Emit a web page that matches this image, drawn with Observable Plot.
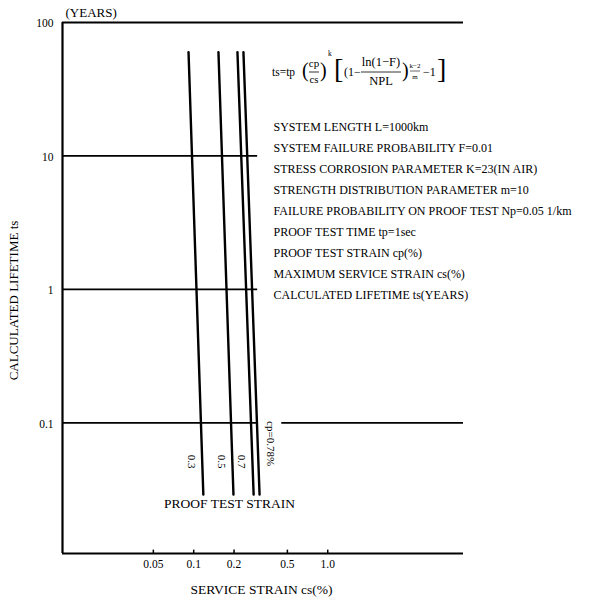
<!DOCTYPE html>
<html><head><meta charset="utf-8">
<script src="https://cdn.jsdelivr.net/npm/d3@7"></script>
<script src="https://cdn.jsdelivr.net/npm/@observablehq/plot@0.6"></script>
<style>body{margin:0;background:#fff}</style>
</head><body><div id="chart"></div>
<script>
// Proof test strain curves (cp, %), each a straight line on log-log axes
const proofStrain = [0.3, 0.5, 0.7, 0.78];
const proofStrainLabels = ["0.3", "0.5", "0.7", "cp=0.78%"];
const serviceStrainTop = [0.0915, 0.153, 0.212, 0.235];   // cs (%) at top end
const serviceStrainBottom = [0.118, 0.198, 0.280, 0.310]; // cs (%) at bottom end
const lifetimeTop = [60, 60, 60, 60];                     // ts (years)
const lifetimeBottom = [0.029, 0.029, 0.029, 0.029];

const xTicks = [0.05, 0.1, 0.2, 0.5, 1.0];
const xTickLabels = ["0.05", "0.1", "0.2", "0.5", "1.0"];
const yTicks = [100, 10, 1, 0.1];
const yTickLabels = ["100", "10", "1", "0.1"];
const gridYears = [10, 1, 0.1];

const xDomain = [0.0105, 10.3];
const yDomain = [0.0105, 100];
const gridEnd = 0.30;
const gapStart = 0.454;

const legendLines = [
  "SYSTEM LENGTH L=1000km",
  "SYSTEM FAILURE PROBABILITY F=0.01",
  "STRESS CORROSION PARAMETER K=23(IN AIR)",
  "STRENGTH DISTRIBUTION PARAMETER m=10",
  "FAILURE PROBABILITY ON PROOF TEST Np=0.05 1/km",
  "PROOF TEST TIME tp=1sec",
  "PROOF TEST STRAIN cp(%)",
  "MAXIMUM SERVICE STRAIN cs(%)",
  "CALCULATED LIFETIME ts(YEARS)"
];

const lines = proofStrain.flatMap((cp, i) => [
  {cp, cs: serviceStrainTop[i], ts: lifetimeTop[i]},
  {cp, cs: serviceStrainBottom[i], ts: lifetimeBottom[i]}
]);
const labelData = proofStrain.map((cp, i) => ({cp, label: proofStrainLabels[i], cs: serviceStrainBottom[i], ts: lifetimeBottom[i]}));

const font = "Liberation Serif";
const chart = Plot.plot({
  width: 613, height: 600,
  marginLeft: 62, marginRight: 150, marginTop: 22, marginBottom: 47,
  x: {type: "log", domain: xDomain, axis: null},
  y: {type: "log", domain: yDomain, axis: null},
  style: {fontFamily: font, fontSize: "11px", background: "#fff", color: "#000"},
  marks: [
    // frame (left, top, bottom)
    Plot.ruleX([xDomain[0]], {y1: yDomain[0], y2: yDomain[1], strokeWidth: 2.2}),
    Plot.ruleY(yDomain, {x1: xDomain[0], x2: xDomain[1], strokeWidth: 2.2}),
    // gridlines
    Plot.ruleY(gridYears, {x1: xDomain[0], x2: gridEnd, strokeWidth: 1.8}),
    Plot.ruleY([0.1], {x1: gapStart, x2: xDomain[1], strokeWidth: 1.8}),
    // small tick bumps and tick labels on x axis
    Plot.ruleX(xTicks, {y1: yDomain[0], y2: yDomain[0] * 1.06, strokeWidth: 1.5}),
    Plot.text(xTicks, {x: d => d, frameAnchor: "bottom", dy: 14, fontSize: 11.5,
      text: d => xTickLabels[xTicks.indexOf(d)]}),
    // y tick labels
    Plot.text(yTicks, {y: d => d, frameAnchor: "left", dx: -9, dy: 1, textAnchor: "end", fontSize: 11.5,
      text: d => yTickLabels[yTicks.indexOf(d)]}),
    // curves
    Plot.line(lines, {x: "cs", y: "ts", z: "cp", stroke: "#000", strokeWidth: 2.4}),
    Plot.text(labelData.slice(0, 3), {x: "cs", y: "ts", text: "label", rotate: 90, dx: -12, dy: -33, fontSize: 11}),
    Plot.text(labelData.slice(3), {x: "cs", y: "ts", text: "label", rotate: 90, dx: 11, dy: -51, fontSize: 11}),
    Plot.text(["PROOF TEST STRAIN"], {frameAnchor: "bottom-left", dx: 167, dy: -46, textAnchor: "middle", fontSize: 13.5}),
    // axis titles
    Plot.text(["CALCULATED LIFETIME ts"], {frameAnchor: "left", dx: -49, dy: 12.5, rotate: -90, textAnchor: "middle", fontSize: 13}),
    Plot.text(["(YEARS)"], {frameAnchor: "top-left", dx: 3, dy: -15, textAnchor: "start", fontSize: 13}),
    Plot.text(["SERVICE STRAIN cs(%)"], {frameAnchor: "bottom", dx: -1.5, dy: 40, textAnchor: "middle", fontSize: 13.5}),
    // parameter list
    Plot.text([legendLines.join("\n")], {frameAnchor: "top-left", dx: 211, dy: 94, textAnchor: "start",
      lineAnchor: "top", lineHeight: 1.75, fontSize: 12})
  ]
});
document.getElementById("chart").appendChild(chart);

// Formula (typeset from text pieces)
const svg = d3.select(chart);
const g = svg.append("g").attr("font-family", font).attr("fill", "#000");
const piece = (x, y, t, size, anchor = "start") =>
  g.append("text").attr("x", x).attr("y", y).attr("font-size", size)
   .attr("text-anchor", anchor).attr("dominant-baseline", "middle").text(t);
const bar = (x1, x2, y, w = 0.8) =>
  g.append("line").attr("x1", x1).attr("x2", x2).attr("y1", y).attr("y2", y)
   .attr("stroke", "#000").attr("stroke-width", w);
piece(272, 73, "ts=tp", 11.5);
piece(302, 72, "(", 20);
piece(314, 64, "cp", 11, "middle");
bar(309, 319, 72);
piece(314, 80, "cs", 11, "middle");
piece(320, 72, ")", 20);
piece(328, 54, "k", 7.5);
piece(334, 72, "[", 28);
piece(344, 73, "(1−", 12);
piece(381, 63, "ln(1−F)", 12.5, "middle");
bar(361, 401, 72);
piece(381, 82, "NPL", 12.5, "middle");
piece(402, 72, ")", 20);
piece(415, 66, "k−2", 7, "middle");
bar(410, 420, 71, 0.6);
piece(415, 77, "m", 7, "middle");
piece(423, 73, "−1", 12);
piece(437, 72, "]", 28);
</script>
</body></html>
